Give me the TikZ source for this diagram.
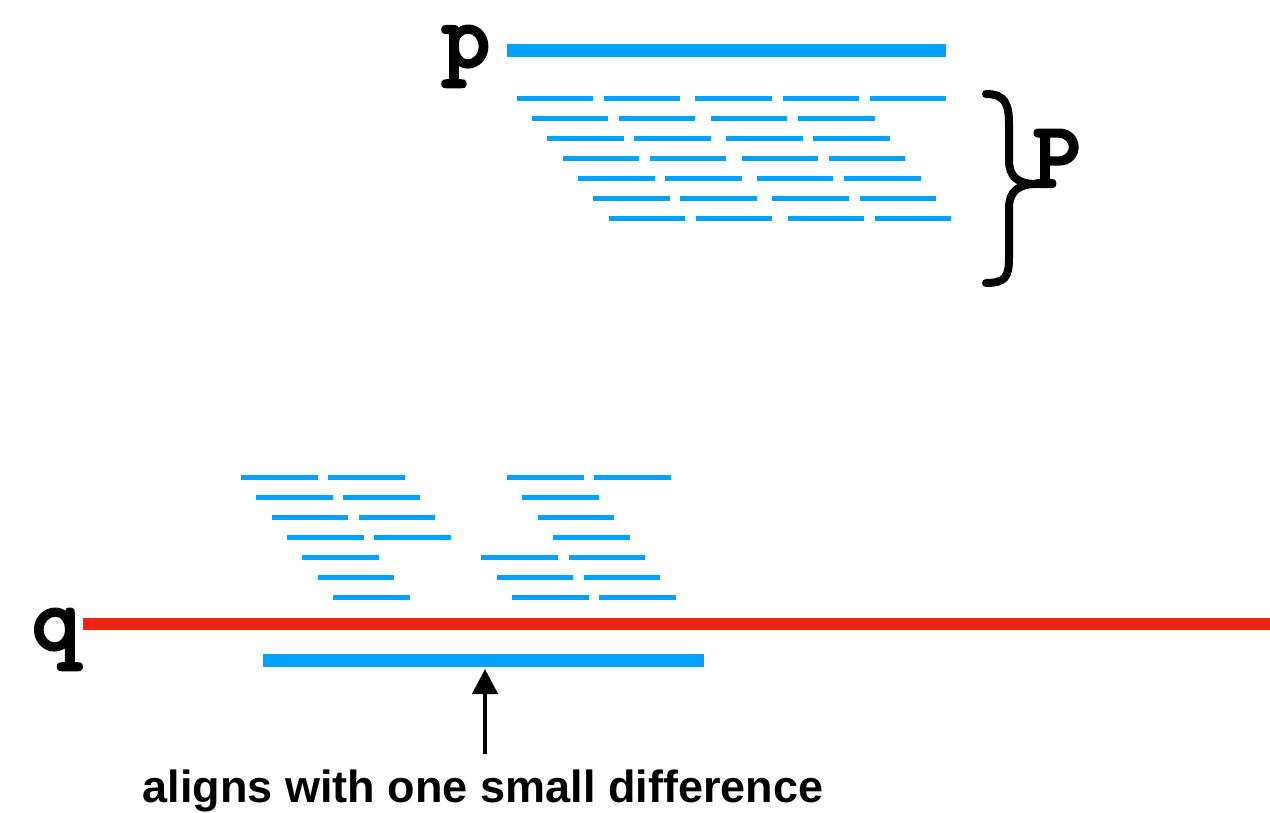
\documentclass[tikz,border=0pt]{standalone}
\usepackage{fontspec}
\setmainfont{Liberation Sans}
% heavy typewriter face for the sequence names
\newfontfamily\seqfont[FakeBold=2.2]{lmmonolt10-bold.otf}
\usetikzlibrary{arrows.meta}
\definecolor{seqblue}{RGB}{0,162,255}
\definecolor{refred}{RGB}{238,34,17}
% one row of short reads: #1 start x, #2 y, #3 offsets of the reads in the row
\newcommand\readrow[3]{%
  \foreach \o in {#3} {\draw[readdash] (#1+\o,#2) -- (#1+\o+76.5,#2);}%
}
\begin{document}
\begin{tikzpicture}[x=1pt,y=-1pt,
  readbar/.style={seqblue,line width=13pt},
  readdash/.style={seqblue,line width=5pt},
  refline/.style={refred,line width=12pt},
  bracepath/.style={black,line width=8pt,line cap=round,line join=round},
  letter/.style={inner sep=0pt,anchor=base,font=\seqfont\fontsize{94}{94}\selectfont},
  caption/.style={inner sep=0pt,anchor=base,font=\bfseries\fontsize{45}{45}\selectfont},
]
\useasboundingbox (0,0) rectangle (1270,813);

% sequence p and its reads
\node[letter] (p) at (466,67) {p};
\coordinate (pL) at (507,50.5);
\coordinate (pR) at (946,50.5);
\draw[readbar] (pL) -- (pR);
\readrow{516.6}{99}{0,87,178.8,266.1,353.1}
\foreach \r in {1,...,6} {
  \pgfmathsetmacro\xs{516.6+15.37*\r}
  \pgfmathsetmacro\ys{99+20*\r}
  \readrow{\xs}{\ys}{0,87,178.8,266.1}
}

% brace grouping the reads, labelled P
\node[letter] (P) at (1057,187) {P};
\coordinate (btop) at (986,94);
\coordinate (btip) at (1036,184);
\coordinate (bbot) at (986,283);
\draw[bracepath] (btop) .. controls (1005,94) and (1009,104) .. (1009,124)
  -- (1009,160) .. controls (1009,177) and (1018,184) .. (btip)
  .. controls (1018,184) and (1009,192) .. (1009,208)
  -- (1009,258) .. controls (1009,277) and (1005,283) .. (bbot);

% reads mapped onto reference q
\readrow{241}{477.7}{0,87,266.1,353.1}
\foreach \r in {1,2,3} {
  \pgfmathsetmacro\xs{241+15.37*\r}
  \pgfmathsetmacro\ys{477.7+20*\r}
  \readrow{\xs}{\ys}{0,87,266.1}
}
\foreach \r in {4,5,6} {
  \pgfmathsetmacro\xs{241+15.37*\r}
  \pgfmathsetmacro\ys{477.7+20*\r}
  \readrow{\xs}{\ys}{0,178.8,266.1}
}

% reference q and the aligned sequence
\node[letter] (q) at (56,650) {q};
\coordinate (qL) at (83,624);
\coordinate (qR) at (1270,624);
\draw[refline] (qL) -- (qR);
\coordinate (aL) at (263,660);
\coordinate (aR) at (704,660);
\draw[readbar] (aL) -- (aR);

% annotation
\node[caption] (note) at (483,802) {aligns with one small difference};
\coordinate (tail) at (485,754);
\coordinate (tip) at (485,669);
\draw[line width=4.5pt,-{Triangle[length=25pt,width=25pt]}] (tail) -- (tip);
\end{tikzpicture}
\end{document}
